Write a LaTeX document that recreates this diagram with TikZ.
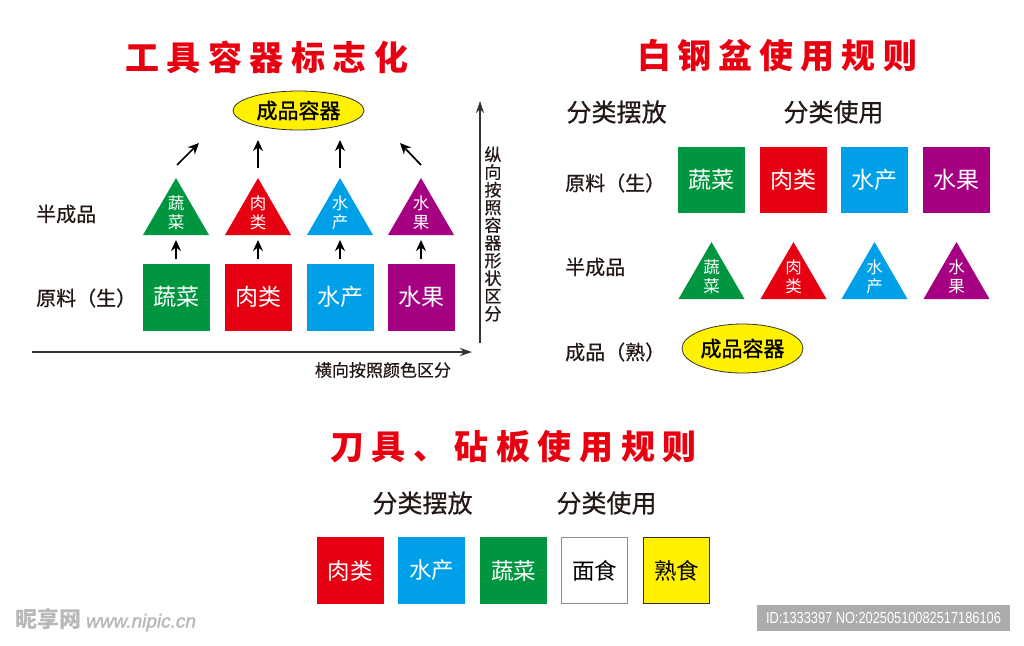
\documentclass[tikz,border=0pt]{standalone}
\usepackage{fontspec}
\usepackage{graphicx}
\setmainfont{Noto Sans CJK SC}
\newfontfamily\medfont[FakeBold=0.6]{Noto Sans CJK SC}
\newfontfamily\semifont[FakeBold=1.3]{Noto Sans CJK SC}
\newfontfamily\idfont{Liberation Sans}
\newfontfamily\wmfont[FakeSlant=0.2,FakeBold=1.5]{Liberation Sans}
\usetikzlibrary{arrows.meta,shapes.geometric}
\definecolor{cgreen}{RGB}{0,150,64}
\definecolor{cred}{RGB}{230,0,18}
\definecolor{cblue}{RGB}{0,160,233}
\definecolor{cpurple}{RGB}{165,0,130}
\definecolor{cyellow}{RGB}{255,241,0}
\definecolor{ctitle}{RGB}{232,0,16}
\definecolor{ctext}{RGB}{35,24,21}
\definecolor{cid}{RGB}{172,172,172}
\newcommand\tk{\kern7.5pt}
\newcommand\tks{\kern7pt}
\newcommand\tritri[4]{% x, base y, colour, name
  \fill[#3] (#1-33,#2) -- (#1+33,#2) -- (#1,#2-57) -- cycle;
  \coordinate (#4b) at (#1,#2);
  \coordinate (#4a) at (#1,#2-57);}
\tikzset{
  sq/.style={minimum width=67pt, minimum height=67pt, inner sep=0pt, text=white, font=\fontsize{23}{26}\selectfont},
  bsq/.style={sq, font=\fontsize{22.5}{26}\selectfont},
  trit/.style={align=center, text=white, font=\fontsize{16.5}{19}\selectfont, inner sep=0pt},
  ell/.style={ellipse, draw=black!80, line width=0.8pt, fill=cyellow, text=black, font=\semifont\fontsize{21}{24}\selectfont, inner sep=0pt},
  lbl/.style={font=\medfont\fontsize{20}{24}\selectfont, text=ctext, anchor=west, inner sep=0pt},
  head/.style={font=\medfont\fontsize{25}{28}\selectfont, text=ctext, inner sep=0pt},
  ttl/.style={font=\bfseries\fontsize{34}{38}\selectfont, text=ctitle, inner sep=0pt},
  arr/.style={-{Stealth[length=11pt,width=10pt]}, line width=1.7pt, draw=black},
  axis/.style={-{Stealth[length=12pt,width=8pt]}, line width=1.3pt, draw=black!80},
  axlbl/.style={font=\medfont\fontsize{17}{17.7}\selectfont, text=ctext, inner sep=0pt, align=center}
}
\begin{document}
\begin{tikzpicture}[x=1pt,y=-1pt]
\useasboundingbox[fill=white] (0,0) rectangle (1024,645);

% ---------------- left: 工具容器标志化 ----------------
\node[ttl] (t1) at (267,57) {工\tk{}具\tk{}容\tk{}器\tk{}标\tk{}志\tk{}化};
\node[ell, minimum width=131pt, minimum height=39pt] (e1) at (298.5,110.5) {成品容器};

\node[lbl] (l1a) at (36,214) {半成品};
\node[lbl] (l1b) at (36,298) {原料（生）};

\node[sq, fill=cgreen]  (s11) at (176,297) {蔬菜};
\node[sq, fill=cred]    (s12) at (258,297) {肉类};
\node[sq, fill=cblue]   (s13) at (340,297) {水产};
\node[sq, fill=cpurple] (s14) at (421,297) {水果};

\tritri{176}{235}{cgreen}{r1}
\tritri{258}{235}{cred}{r2}
\tritri{340}{235}{cblue}{r3}
\tritri{421}{235}{cpurple}{r4}
\node[trit] (g11) at (176,213) {蔬\\菜};
\node[trit] (g12) at (258,213) {肉\\类};
\node[trit] (g13) at (340,213) {水\\产};
\node[trit] (g14) at (421,213) {水\\果};

\foreach \i in {1,2,3,4}{
  \draw[arr, shorten <=4pt, shorten >=5pt] (s1\i) -- (r\i b);
}
\coordinate (u1s) at (177,165); \coordinate (u1e) at (199,143);
\coordinate (u2e) at (258,140);
\coordinate (u3e) at (340,140);
\coordinate (u4s) at (421,165); \coordinate (u4e) at (400,143);
\draw[arr] (u1s) -- (u1e);
\draw[arr, shorten <=10pt] (r2a) -- (u2e);
\draw[arr, shorten <=10pt] (r3a) -- (u3e);
\draw[arr] (u4s) -- (u4e);

\coordinate (hx0) at (32,352); \coordinate (hx1) at (472,352);
\coordinate (vy0) at (480,343); \coordinate (vy1) at (480,101);
\draw[axis] (hx0) -- (hx1);
\draw[axis] (vy0) -- (vy1);
\node[axlbl] (hl) at (383,370) {横向按照颜色区分};
\node[axlbl] (vl) at (493,234) {纵\\向\\按\\照\\容\\器\\形\\状\\区\\分};

% ---------------- right: 白钢盆使用规则 ----------------
\node[ttl] (t2) at (777,56) {白\tks{}钢\tks{}盆\tks{}使\tks{}用\tks{}规\tks{}则};
\node[head] (h21) at (616.5,112) {分类摆放};
\node[head] (h22) at (833.5,112) {分类使用};

\node[lbl] (l2a) at (565,183) {原料（生）};
\node[lbl] (l2b) at (565,267) {半成品};
\node[lbl] (l2c) at (565,352) {成品（熟）};

\node[sq, fill=cgreen,  minimum height=66pt] (s21) at (711.5,180) {蔬菜};
\node[sq, fill=cred,    minimum height=66pt] (s22) at (793.5,180) {肉类};
\node[sq, fill=cblue,   minimum height=66pt] (s23) at (874.5,180) {水产};
\node[sq, fill=cpurple, minimum height=66pt] (s24) at (956.5,180) {水果};

\tritri{711.5}{299}{cgreen}{q1}
\tritri{793.5}{299}{cred}{q2}
\tritri{874.5}{299}{cblue}{q3}
\tritri{956.5}{299}{cpurple}{q4}
\node[trit] (g21) at (711.5,277) {蔬\\菜};
\node[trit] (g22) at (793.5,277) {肉\\类};
\node[trit] (g23) at (874.5,277) {水\\产};
\node[trit] (g24) at (956.5,277) {水\\果};

\node[ell, minimum width=121pt, minimum height=49pt] (e2) at (742.5,348.5) {成品容器};

% ---------------- bottom: 刀具、砧板使用规则 ----------------
\node[ttl] (t3) at (513.5,447) {刀\tk{}具\tk{}、\tk{}砧\tk{}板\tk{}使\tk{}用\tk{}规\tk{}则};
\node[head] (h31) at (422.5,503) {分类摆放};
\node[head] (h32) at (606.5,503) {分类使用};

\node[bsq, fill=cred]   (s31) at (350,570.5) {肉类};
\node[bsq, fill=cblue]  (s32) at (431.5,570.5) {水产};
\node[bsq, fill=cgreen] (s33) at (513.5,570.5) {蔬菜};
\node[bsq, fill=white, draw=black!45, line width=1pt, text=black, minimum width=66pt, minimum height=66pt] (s34) at (594.5,570.5) {面食};
\node[bsq, fill=cyellow, draw=black!80, line width=1.3pt, text=black, minimum width=66pt, minimum height=66pt] (s35) at (676.5,570.5) {熟食};

% ---------------- watermark ----------------
\node[anchor=west, inner sep=0pt, text=black!28] (wm) at (15,620)
  {{\bfseries\fontsize{22}{24}\selectfont 昵享网}\kern4pt{\wmfont\fontsize{19}{22}\selectfont www.nipic.cn}};
\node[fill=cid, text=white, minimum width=253pt, minimum height=26pt, inner sep=0pt] (idb) at (883.5,618)
  {\scalebox{0.8}[1]{\idfont\fontsize{16}{18}\selectfont ID:1333397 NO:20250510082517186106}};
\end{tikzpicture}
\end{document}
